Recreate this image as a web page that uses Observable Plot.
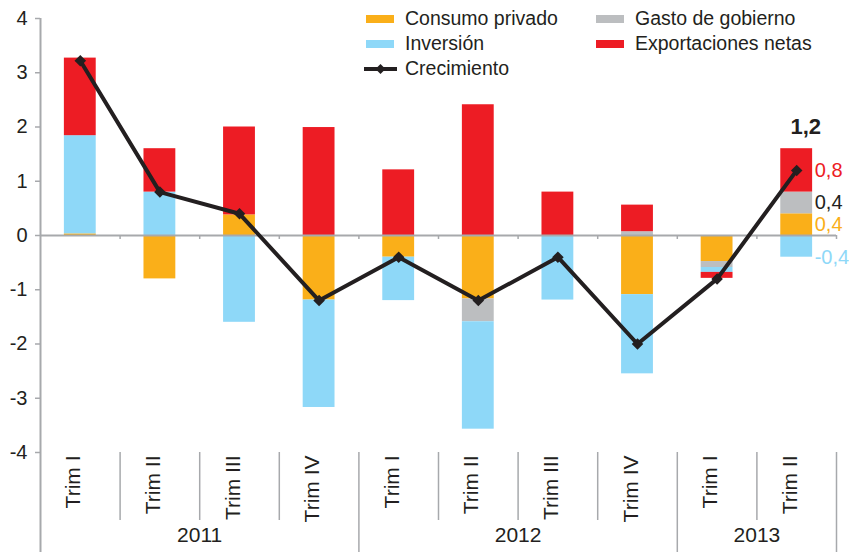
<!DOCTYPE html>
<html><head><meta charset="utf-8">
<script src="https://cdn.jsdelivr.net/npm/d3@7"></script>
<script src="https://cdn.jsdelivr.net/npm/@observablehq/plot@0.6"></script>
<style>
body{margin:0;background:#fff;}
#wrap{position:relative;width:849px;height:552px;font-family:"Liberation Sans",Arial,sans-serif;color:#231F20;overflow:hidden;}
#wrap svg.plot{position:absolute;left:0;top:0;}
.lg{position:absolute;font-size:19.5px;line-height:19.5px;white-space:nowrap;}
.sw{position:absolute;width:28px;height:8px;}
</style></head><body><div id="wrap"></div>
<script>
// ---- data ----
const years = ["2011","2011","2011","2011","2012","2012","2012","2012","2013","2013"];
const quarters = ["Trim I","Trim II","Trim III","Trim IV","Trim I","Trim II","Trim III","Trim IV","Trim I","Trim II"];
const seriesNames = ["Consumo privado","Gasto de gobierno","Inversión","Exportaciones netas"];
const seriesColors = ["#FAAF19","#BCBEC0","#8ED8F8","#ED1C24"];
const consumo      = [0.03,-0.80, 0.38,-1.19,-0.40,-1.17, 0.00,-1.09,-0.48, 0.40];
const gasto        = [0.00, 0.00, 0.00, 0.00, 0.00,-0.42, 0.00, 0.07,-0.11, 0.40];
const inversion    = [1.81, 0.80,-1.60,-1.98,-0.80,-1.98,-1.19,-1.46,-0.09,-0.40];
const exportaciones= [1.43, 0.80, 1.62, 1.99, 1.21, 2.41, 0.80, 0.49,-0.11, 0.80];
const crecimiento  = [3.22, 0.80, 0.40,-1.20,-0.40,-1.20,-0.40,-2.00,-0.80, 1.20];
const growthName = "Crecimiento";
const yTicks = [-4,-3,-2,-1,0,1,2,3,4];

// ---- layout ----
const W = 849, H = 552, mL = 40, mR = 13, mT = 18, mB = 100;
const ink = "#231F20", axisGray = "#A7A9AC";

const periods = years.map((y, i) => `${y} ${quarters[i]}`);
const values = [consumo, gasto, inversion, exportaciones];
const rows = seriesNames.flatMap((s, k) => periods.map((p, i) => ({period: p, series: s, value: values[k][i]})));
const growth = periods.map((p, i) => ({period: p, value: crecimiento[i]}));
const step = (W - mL - mR) / periods.length;
const n = periods.length, last = n - 1;
const fmt = v => v.toFixed(1).replace(".", ",");

// separators
const minorStarts = periods.filter((p, i) => i > 0 && years[i] === years[i - 1]);
const yearStarts = periods.filter((p, i) => i > 0 && years[i] !== years[i - 1]);
const innerStarts = periods.slice(1);
// year label anchors
const yearGroups = d3.groups(periods.map((p, i) => ({p, y: years[i], i})), d => d.y);
const yearLabels = yearGroups.map(([y, arr]) => ({year: y, period: arr[arr.length / 2 - 1].p}));

// annotations on last period
let pos = 0, neg = 0;
const annos = seriesNames.map((s, k) => {
  const v = values[k][last];
  let y;
  if (v >= 0) { y = pos + v / 2; pos += v; } else { y = neg + v; neg += v; }
  return {period: periods[last], series: s, value: v, y, color: s === "Gasto de gobierno" ? ink : seriesColors[k]};
});
const topPos = pos;

const plot = Plot.plot({
  width: W, height: H,
  marginLeft: mL, marginRight: mR, marginTop: mT, marginBottom: mB,
  style: {fontFamily: '"Liberation Sans", Arial, sans-serif', fontSize: "20px", color: ink, background: "transparent", overflow: "visible"},
  x: {type: "band", domain: periods, paddingInner: 0.6, paddingOuter: 0.3, round: false, axis: null},
  y: {domain: [-4, 4], label: null, axis: null},
  color: {domain: seriesNames, range: seriesColors},
  marks: [
    Plot.barY(rows, {x: "period", y: "value", fill: "series"}),
    Plot.ruleY([0], {stroke: axisGray, strokeWidth: 2}),
    Plot.ruleX(innerStarts, {x: d => d, dx: -step / 2, y1: 0, y2: 0, insetBottom: -4, stroke: axisGray, strokeWidth: 1.5}),
    Plot.ruleX([periods[last]], {x: d => d, dx: step / 2, y1: 0, y2: 0, insetBottom: -4, stroke: axisGray, strokeWidth: 1.5}),
    Plot.ruleX([periods[0]], {x: d => d, dx: -step / 2, y1: 4, y2: -4, insetBottom: -mB, stroke: axisGray, strokeWidth: 2}),
    Plot.ruleX(minorStarts, {x: d => d, dx: -step / 2, y1: -4, y2: -4, insetBottom: -68, stroke: axisGray, strokeWidth: 1.5}),
    Plot.ruleX(yearStarts, {x: d => d, dx: -step / 2, y1: -4, y2: -4, insetBottom: -mB, stroke: axisGray, strokeWidth: 1.5}),
    Plot.ruleX([periods[last]], {x: d => d, dx: step / 2, y1: -4, y2: -4, insetBottom: -mB, stroke: axisGray, strokeWidth: 1.5}),
    Plot.axisY({ticks: yTicks, tickSize: 5, tickPadding: 8, tickFormat: d => String(d), stroke: axisGray, strokeWidth: 1.5, fill: ink, fontSize: 20, label: null}),
    Plot.line(growth, {x: "period", y: "value", stroke: ink, strokeWidth: 4}),
    Plot.dot(growth, {x: "period", y: "value", symbol: "diamond2", r: 5.2, fill: ink, stroke: "none"}),
    Plot.text(periods, {x: d => d, frameAnchor: "bottom", dy: 3, rotate: -90, textAnchor: "end", text: (d, i) => quarters[i], fontSize: 21, fill: ink}),
    Plot.text(yearLabels, {x: "period", dx: step / 2, frameAnchor: "bottom", dy: 89, text: "year", fontSize: 21, fill: ink}),
    Plot.text(annos, {x: "period", y: "y", text: d => fmt(d.value), fill: d => d.color, dx: 18, textAnchor: "start", fontSize: 20}),
    Plot.text([growth[last]], {x: "period", y: () => topPos, text: d => fmt(d.value), dx: 9, dy: -22, fontWeight: "bold", fontSize: 22, fill: ink})
  ]
});
plot.classList.add("plot");
const wrap = document.getElementById("wrap");
wrap.appendChild(plot);

// ---- legend (HTML overlay) ----
const legendItems = [
  {name: seriesNames[0], color: seriesColors[0], left: 366, row: 0},
  {name: seriesNames[2], color: seriesColors[2], left: 366, row: 1},
  {name: seriesNames[1], color: seriesColors[1], left: 596, row: 0},
  {name: seriesNames[3], color: seriesColors[3], left: 596, row: 1}
];
const rowCenters = [18.5, 43.5, 68.5];
for (const it of legendItems) {
  const sw = document.createElement("div");
  sw.className = "sw";
  sw.style.left = it.left + "px";
  sw.style.top = (rowCenters[it.row] - 4) + "px";
  sw.style.background = it.color;
  wrap.appendChild(sw);
  const t = document.createElement("div");
  t.className = "lg";
  t.style.left = (it.left + 39) + "px";
  t.style.top = (rowCenters[it.row] - 10) + "px";
  t.textContent = it.name;
  wrap.appendChild(t);
}
const gs = document.createElementNS("http://www.w3.org/2000/svg", "svg");
gs.setAttribute("width", 36); gs.setAttribute("height", 14);
gs.style.position = "absolute"; gs.style.left = "363px"; gs.style.top = (rowCenters[2] - 7) + "px";
gs.innerHTML = `<line x1="1" y1="7" x2="34" y2="7" stroke="${ink}" stroke-width="4"/><polygon points="17.5,2 22.5,7 17.5,12 12.5,7" fill="${ink}"/>`;
wrap.appendChild(gs);
const gt = document.createElement("div");
gt.className = "lg";
gt.style.left = "405px"; gt.style.top = (rowCenters[2] - 10) + "px";
gt.textContent = growthName;
wrap.appendChild(gt);
</script></body></html>
